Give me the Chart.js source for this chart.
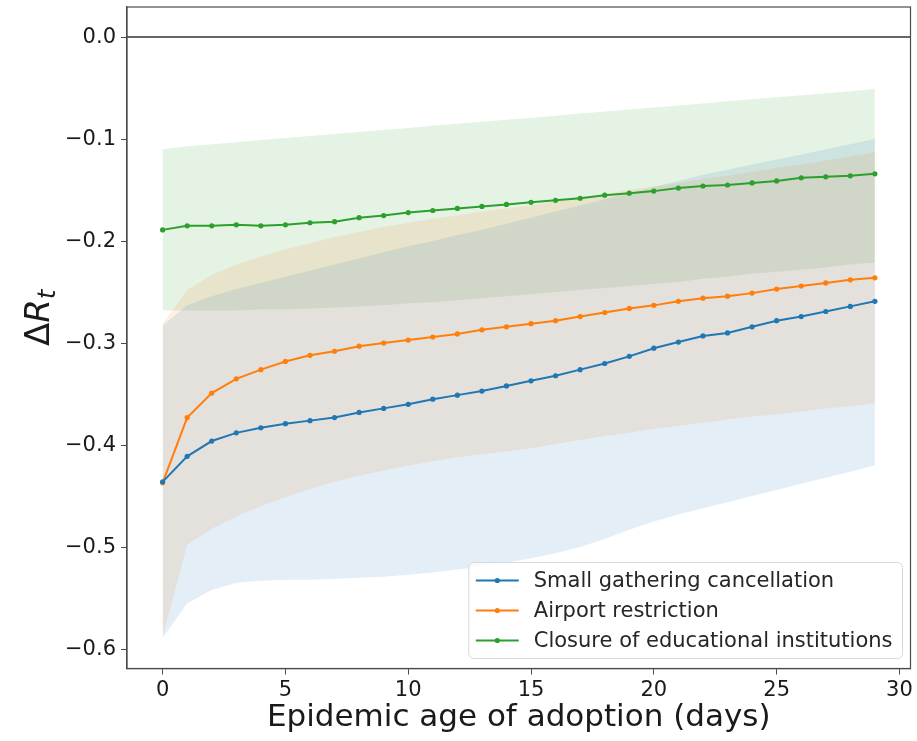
<!DOCTYPE html>
<html>
<head>
<meta charset="utf-8">
<script src="https://cdn.jsdelivr.net/npm/chart.js@4.4.1/dist/chart.umd.min.js"></script>
<style>
  html, body { margin: 0; padding: 0; background: #fff; }
</style>
</head>
<body>
<canvas id="chart" width="917" height="741"></canvas>
<script>
const days = [0, 1, 2, 3, 4, 5, 6, 7, 8, 9, 10, 11, 12, 13, 14,
              15, 16, 17, 18, 19, 20, 21, 22, 23, 24, 25, 26, 27, 28, 29];

// mean effect per policy
const smallGathering = [-0.436, -0.411, -0.396, -0.388, -0.383, -0.379, -0.376, -0.373, -0.368, -0.364,
                        -0.360, -0.355, -0.351, -0.347, -0.342, -0.337, -0.332, -0.326, -0.320, -0.313,
                        -0.305, -0.299, -0.293, -0.290, -0.284, -0.278, -0.274, -0.269, -0.264, -0.259];
const airport = [-0.437, -0.373, -0.349, -0.335, -0.326, -0.318, -0.312, -0.308, -0.303, -0.300,
                 -0.297, -0.294, -0.291, -0.287, -0.284, -0.281, -0.278, -0.274, -0.270, -0.266,
                 -0.263, -0.259, -0.256, -0.254, -0.251, -0.247, -0.244, -0.241, -0.238, -0.236];
const schools = [-0.189, -0.185, -0.185, -0.184, -0.185, -0.184, -0.182, -0.181, -0.177, -0.175,
                 -0.172, -0.170, -0.168, -0.166, -0.164, -0.162, -0.160, -0.158, -0.155, -0.153,
                 -0.151, -0.148, -0.146, -0.145, -0.143, -0.141, -0.138, -0.137, -0.136, -0.134];

// confidence bands
const smallGatheringHi = [-0.283, -0.263, -0.254, -0.247, -0.241, -0.235, -0.229, -0.223, -0.217, -0.211,
                          -0.205, -0.200, -0.194, -0.189, -0.183, -0.177, -0.171, -0.165, -0.159, -0.153,
                          -0.147, -0.141, -0.135, -0.130, -0.125, -0.120, -0.115, -0.110, -0.105, -0.100];
const smallGatheringLo = [-0.589, -0.555, -0.542, -0.535, -0.533, -0.532, -0.532, -0.531, -0.530, -0.529,
                          -0.527, -0.525, -0.522, -0.519, -0.515, -0.511, -0.506, -0.500, -0.492, -0.483,
                          -0.475, -0.468, -0.462, -0.456, -0.450, -0.444, -0.438, -0.432, -0.426, -0.420];
const airportHi = [-0.281, -0.248, -0.233, -0.223, -0.215, -0.208, -0.202, -0.196, -0.191, -0.186,
                   -0.182, -0.178, -0.175, -0.171, -0.168, -0.165, -0.161, -0.158, -0.154, -0.150,
                   -0.146, -0.143, -0.139, -0.136, -0.132, -0.128, -0.125, -0.121, -0.117, -0.113];
const airportLo = [-0.588, -0.498, -0.482, -0.470, -0.460, -0.451, -0.443, -0.436, -0.430, -0.425,
                   -0.420, -0.416, -0.412, -0.409, -0.406, -0.403, -0.399, -0.395, -0.391, -0.388,
                   -0.384, -0.381, -0.378, -0.375, -0.372, -0.370, -0.367, -0.364, -0.362, -0.359];
const schoolsHi = [-0.110, -0.107, -0.105, -0.103, -0.101, -0.099, -0.097, -0.095, -0.093, -0.091,
                   -0.089, -0.087, -0.085, -0.083, -0.081, -0.079, -0.077, -0.075, -0.073, -0.071,
                   -0.069, -0.067, -0.065, -0.063, -0.061, -0.059, -0.057, -0.055, -0.053, -0.051];
const schoolsLo = [-0.268, -0.268, -0.268, -0.268, -0.267, -0.267, -0.266, -0.265, -0.264, -0.263,
                   -0.261, -0.260, -0.258, -0.256, -0.254, -0.252, -0.250, -0.248, -0.246, -0.244,
                   -0.242, -0.240, -0.237, -0.235, -0.232, -0.230, -0.228, -0.226, -0.223, -0.221];

const xMin = -1.45, xMax = 30.45;
const yMin = -0.619, yMax = 0.0295;

const blue = '#1f77b4', orange = '#ff7f0e', green = '#2ca02c';
const font = '"DejaVu Sans", sans-serif';

const points = (ys) => ys.map((y, i) => ({x: days[i], y: y}));

const lineSet = (label, ys, color) => ({
    label: label,
    data: points(ys),
    borderColor: color,
    backgroundColor: color,
    borderWidth: 2,
    pointRadius: 2.6,
    pointBorderWidth: 0,
    fill: false,
    inLegend: true
});

const bandSet = (ys, color, fill) => ({
    data: points(ys),
    borderColor: 'transparent',
    borderWidth: 0,
    pointRadius: 0,
    backgroundColor: color,
    fill: fill
});

// frame on all four sides, like matplotlib spines
const frame = {
    id: 'frame',
    afterDatasetsDraw(chart) {
        const {ctx, chartArea: a} = chart;
        ctx.save();
        ctx.strokeStyle = '#4a4a4a';
        ctx.lineWidth = 1.2;
        ctx.strokeRect(a.left, a.top, a.right - a.left, a.bottom - a.top);
        ctx.restore();
    }
};

// y title with subscript
const yTitle = {
    id: 'yTitle',
    afterDraw(chart) {
        const {ctx, chartArea: a} = chart;
        ctx.save();
        ctx.translate(49, (a.top + a.bottom) / 2 - 20);
        ctx.rotate(-Math.PI / 2);
        ctx.fillStyle = '#1a1a1a';
        ctx.textBaseline = 'alphabetic';
        const big = '34px ' + font, it = 'italic 34px ' + font, sub = 'italic 24px ' + font;
        ctx.font = big; const w1 = ctx.measureText('\u0394').width;
        ctx.font = it; const w2 = ctx.measureText('R').width;
        ctx.font = sub; const w3 = ctx.measureText('t').width;
        let x = -(w1 + w2 + w3) / 2;
        ctx.font = big; ctx.fillText('\u0394', x, 0); x += w1;
        ctx.font = it; ctx.fillText('R', x, 0); x += w2;
        ctx.font = sub; ctx.fillText('t', x, 6);
        ctx.restore();
    }
};

// legend in the lower right of the plot
const legendBox = {
    id: 'legendBox',
    afterDraw(chart) {
        const {ctx, chartArea: a} = chart;
        const items = chart.data.datasets.filter(d => d.inLegend);
        ctx.save();
        ctx.font = '21px ' + font;
        const textW = Math.max(...items.map(d => ctx.measureText(d.label).width));
        const w = 65 + textW + 10, h = 36 + 30 * (items.length - 1);
        const right = a.right - 8, bottom = a.bottom - 10;
        const left = right - w, top = bottom - h;
        ctx.beginPath();
        ctx.roundRect(left, top, w, h, 5);
        ctx.fillStyle = 'rgba(255,255,255,0.8)';
        ctx.fill();
        ctx.strokeStyle = '#d8d8d8';
        ctx.lineWidth = 1;
        ctx.stroke();
        items.forEach((d, i) => {
            const y = top + 18 + 30 * i;
            ctx.strokeStyle = d.borderColor;
            ctx.lineWidth = 2;
            ctx.beginPath();
            ctx.moveTo(left + 7, y);
            ctx.lineTo(left + 50, y);
            ctx.stroke();
            ctx.fillStyle = d.borderColor;
            ctx.beginPath();
            ctx.arc(left + 28.5, y, 2.6, 0, Math.PI * 2);
            ctx.fill();
            ctx.fillStyle = '#262626';
            ctx.textBaseline = 'middle';
            ctx.fillText(d.label, left + 65, y + 1);
        });
        ctx.restore();
    }
};

new Chart(document.getElementById('chart'), {
    type: 'line',
    data: {
        datasets: [
            lineSet('Small gathering cancellation', smallGathering, blue),
            lineSet('Airport restriction', airport, orange),
            lineSet('Closure of educational institutions', schools, green),
            {
                data: [{x: xMin, y: 0}, {x: xMax, y: 0}],
                borderColor: '#333',
                borderWidth: 1.5,
                pointRadius: 0,
                fill: false
            },
            bandSet(smallGatheringHi, 'rgba(31, 119, 180, 0.12)', '+1'),
            bandSet(smallGatheringLo, 'transparent', false),
            bandSet(airportHi, 'rgba(255, 127, 14, 0.12)', '+1'),
            bandSet(airportLo, 'transparent', false),
            bandSet(schoolsHi, 'rgba(44, 160, 44, 0.12)', '+1'),
            bandSet(schoolsLo, 'transparent', false)
        ]
    },
    options: {
        responsive: false,
        devicePixelRatio: 1,
        animation: false,
        layout: {
            padding: {left: 0, top: 7, right: 6.5, bottom: 0}
        },
        plugins: {
            legend: {display: false},
            tooltip: {enabled: false},
            filler: {drawTime: 'beforeDatasetsDraw'}
        },
        scales: {
            x: {
                type: 'linear',
                min: xMin,
                max: xMax,
                grid: {drawOnChartArea: false, tickLength: 6, color: '#4a4a4a'},
                border: {color: '#4a4a4a', width: 1.2},
                ticks: {
                    stepSize: 5,
                    includeBounds: false,
                    padding: 3,
                    maxRotation: 0,
                    color: '#1a1a1a',
                    font: {family: font, size: 21}
                },
                title: {
                    display: true,
                    text: 'Epidemic age of adoption (days)',
                    color: '#1a1a1a',
                    font: {family: font, size: 31},
                    padding: {top: 0, bottom: 4}
                },
                afterFit: (scale) => { scale.height = 72.5; }
            },
            y: {
                min: yMin,
                max: yMax,
                grid: {drawOnChartArea: false, tickLength: 6, color: '#4a4a4a'},
                border: {color: '#4a4a4a', width: 1.2},
                ticks: {
                    stepSize: 0.1,
                    includeBounds: false,
                    padding: 5,
                    color: '#1a1a1a',
                    font: {family: font, size: 21},
                    callback: (v) => (v < -1e-9 ? '\u2212' : '') + Math.abs(v).toFixed(1)
                },
                afterFit: (scale) => {
                    scale.width = 127;
                    scale.paddingTop = 0;
                    scale.paddingBottom = 0;
                }
            }
        }
    },
    plugins: [frame, yTitle, legendBox]
});
</script>
</body>
</html>
